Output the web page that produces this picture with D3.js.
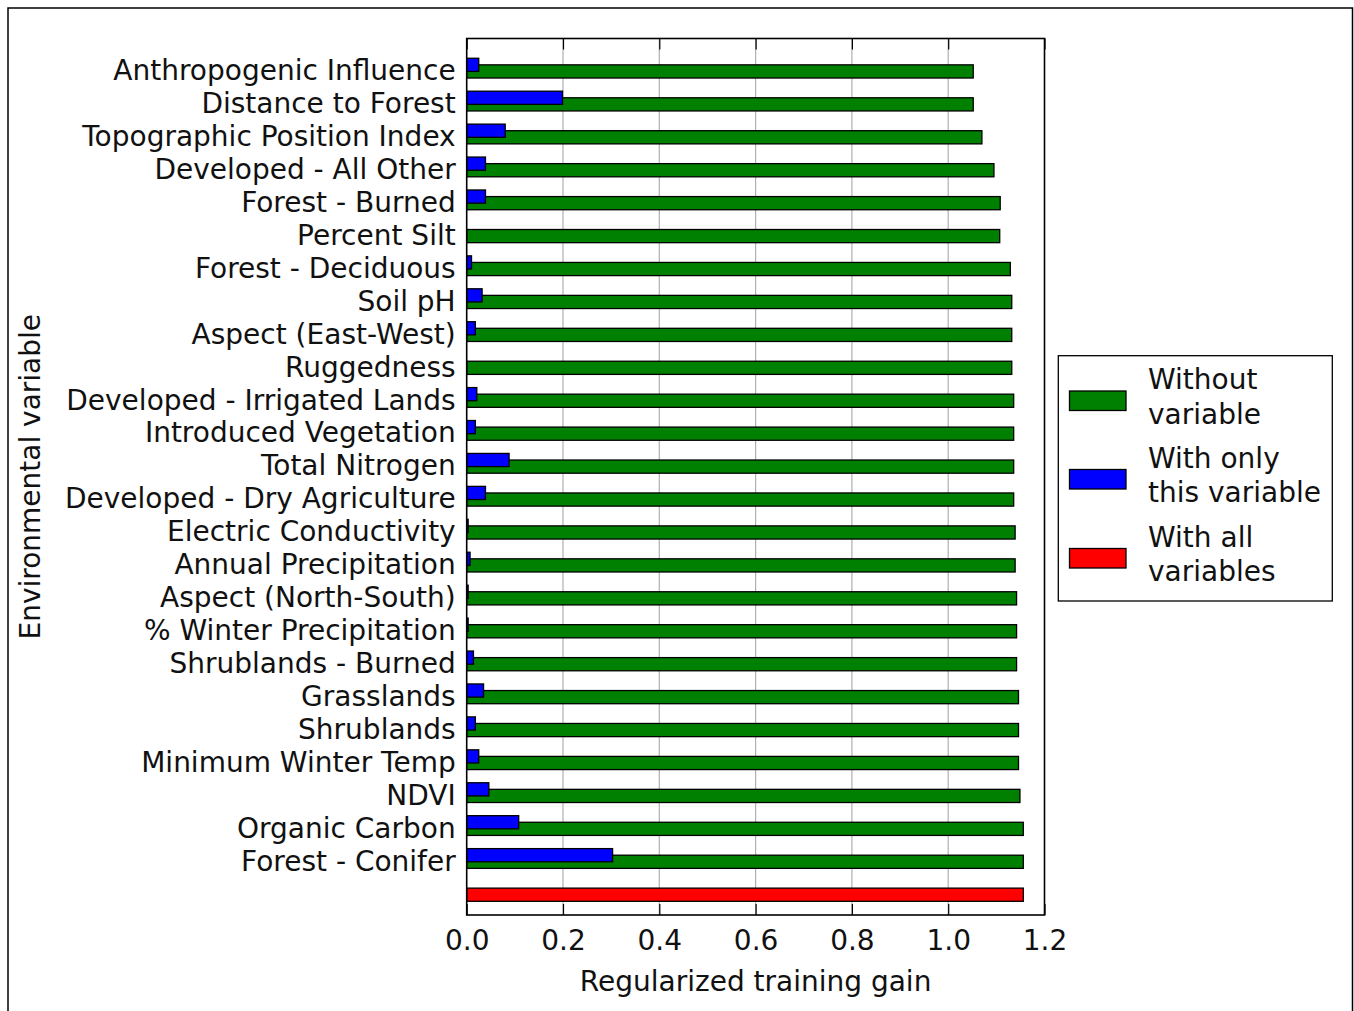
<!DOCTYPE html>
<html>
<head>
<meta charset="utf-8">
<script src="https://cdn.jsdelivr.net/npm/d3@7"></script>
<style>
  body { margin: 0; background: #fff; }
  svg text { font-family: "DejaVu Sans", sans-serif; fill: #111; }
</style>
</head>
<body>
<svg id="chart" width="1354" height="1011"></svg>
<script>
// Variables listed top to bottom
const variables = [
  "Anthropogenic Influence", "Distance to Forest", "Topographic Position Index",
  "Developed - All Other", "Forest - Burned", "Percent Silt", "Forest - Deciduous",
  "Soil pH", "Aspect (East-West)", "Ruggedness", "Developed - Irrigated Lands",
  "Introduced Vegetation", "Total Nitrogen", "Developed - Dry Agriculture",
  "Electric Conductivity", "Annual Precipitation", "Aspect (North-South)",
  "% Winter Precipitation", "Shrublands - Burned", "Grasslands", "Shrublands",
  "Minimum Winter Temp", "NDVI", "Organic Carbon", "Forest - Conifer"
];
const withoutVariable = [
  1.052, 1.052, 1.070, 1.095, 1.108, 1.107, 1.129, 1.132, 1.132, 1.132,
  1.136, 1.136, 1.136, 1.136, 1.139, 1.139, 1.142, 1.142, 1.142, 1.146,
  1.146, 1.146, 1.149, 1.156, 1.156
];
const withOnlyVariable = [
  0.025, 0.199, 0.080, 0.039, 0.039, 0.0, 0.010, 0.032, 0.018, 0.0,
  0.021, 0.018, 0.088, 0.039, 0.003, 0.007, 0.003, 0.003, 0.014, 0.035,
  0.018, 0.025, 0.046, 0.108, 0.303
];
const withAllVariables = 1.156;
const xTicks = [0.0, 0.2, 0.4, 0.6, 0.8, 1.0, 1.2];
const legendLabels = [["Without", "variable"], ["With only", "this variable"], ["With all", "variables"]];
const colors = { without: "#008000", only: "#0000ff", all: "#ff0000" };

(function () {
const svg = d3.select("#chart");
const FS = 28;

// outer frame
svg.append("rect").attr("x", 8).attr("y", 8).attr("width", 1344.5).attr("height", 1020)
  .attr("fill", "none").attr("stroke", "#000").attr("stroke-width", 1.5);

const pL = 466.7, pR = 1044.5, pT = 38.5, pB = 915;
const x = d3.scaleLinear().domain([0, 1.2]).range([pL, pR]);
const n = variables.length;
const y = d3.scaleLinear().domain([-0.616, 26]).range([pB, pT]);
const pos = i => n - i;
const bh = 0.4;

const g = svg.append("g");

g.selectAll("line.grid").data(xTicks.slice(1, -1)).enter().append("line")
  .attr("x1", d => x(d)).attr("x2", d => x(d)).attr("y1", pT).attr("y2", pB)
  .attr("stroke", "#b0b0b0").attr("stroke-width", 1.2);

g.selectAll("rect.without").data(withoutVariable).enter().append("rect")
  .attr("x", x(0)).attr("width", d => x(d) - x(0))
  .attr("y", (d, i) => y(pos(i) + bh / 2)).attr("height", y(0) - y(bh))
  .attr("fill", colors.without).attr("stroke", "#000").attr("stroke-width", 1.3);

g.selectAll("rect.only").data(withOnlyVariable).enter().append("rect")
  .attr("x", x(0)).attr("width", d => x(d) - x(0))
  .attr("y", (d, i) => y(pos(i) + bh)).attr("height", y(0) - y(bh))
  .attr("fill", colors.only).attr("stroke", "#000").attr("stroke-width", 1.3);

g.append("rect").attr("x", x(0)).attr("width", x(withAllVariables) - x(0))
  .attr("y", y(bh / 2)).attr("height", y(0) - y(bh))
  .attr("fill", colors.all).attr("stroke", "#000").attr("stroke-width", 1.3);

g.append("rect").attr("x", pL).attr("y", pT).attr("width", pR - pL).attr("height", pB - pT)
  .attr("fill", "none").attr("stroke", "#000").attr("stroke-width", 1.6);

const xAxis = d3.axisBottom(x).tickValues(xTicks).tickFormat(d3.format(".1f"))
  .tickSizeInner(-11).tickSizeOuter(0).tickPadding(15);
const xa = svg.append("g").attr("transform", `translate(0,${pB})`).call(xAxis);
xa.select(".domain").remove();
xa.selectAll(".tick line").attr("stroke", "#000").attr("stroke-width", 1.2);
xa.selectAll(".tick text").attr("font-size", FS).attr("font-family", "DejaVu Sans").attr("fill", "#111");

const xTop = d3.axisTop(x).tickValues(xTicks).tickFormat("").tickSizeInner(-11).tickSizeOuter(0);
const xt = svg.append("g").attr("transform", `translate(0,${pT})`).call(xTop);
xt.select(".domain").remove();
xt.selectAll(".tick line").attr("stroke", "#000").attr("stroke-width", 1.2);

svg.selectAll("text.ylab").data(variables).enter().append("text")
  .attr("x", pL - 11).attr("y", (d, i) => y(pos(i) + 0.04))
  .attr("dy", "0.36em").attr("text-anchor", "end").attr("font-size", FS)
  .text(d => d);

svg.append("text").attr("x", (pL + pR) / 2).attr("y", 991).attr("text-anchor", "middle")
  .attr("font-size", FS).text("Regularized training gain");
svg.append("text").attr("transform", `translate(40,${(pT + pB) / 2}) rotate(-90)`)
  .attr("text-anchor", "middle").attr("font-size", FS).text("Environmental variable");

const lg = svg.append("g");
lg.append("rect").attr("x", 1058.3).attr("y", 355.7).attr("width", 274).attr("height", 245.3)
  .attr("fill", "#fff").attr("stroke", "#000").attr("stroke-width", 1.3);
const legendColors = [colors.without, colors.only, colors.all];
const patchY = [391, 469.5, 548.5];
legendLabels.forEach((lab, i) => {
  lg.append("rect").attr("x", 1069.5).attr("y", patchY[i]).attr("width", 56.5).attr("height", 19.5)
    .attr("fill", legendColors[i]).attr("stroke", "#000").attr("stroke-width", 1.3);
  lab.forEach((t, j) => {
    lg.append("text").attr("x", 1148).attr("y", patchY[i] + 10 - 22 + j * 34.5)
      .attr("dy", "0.36em").attr("font-size", FS).text(t);
  });
});
})();
</script>
</body>
</html>
